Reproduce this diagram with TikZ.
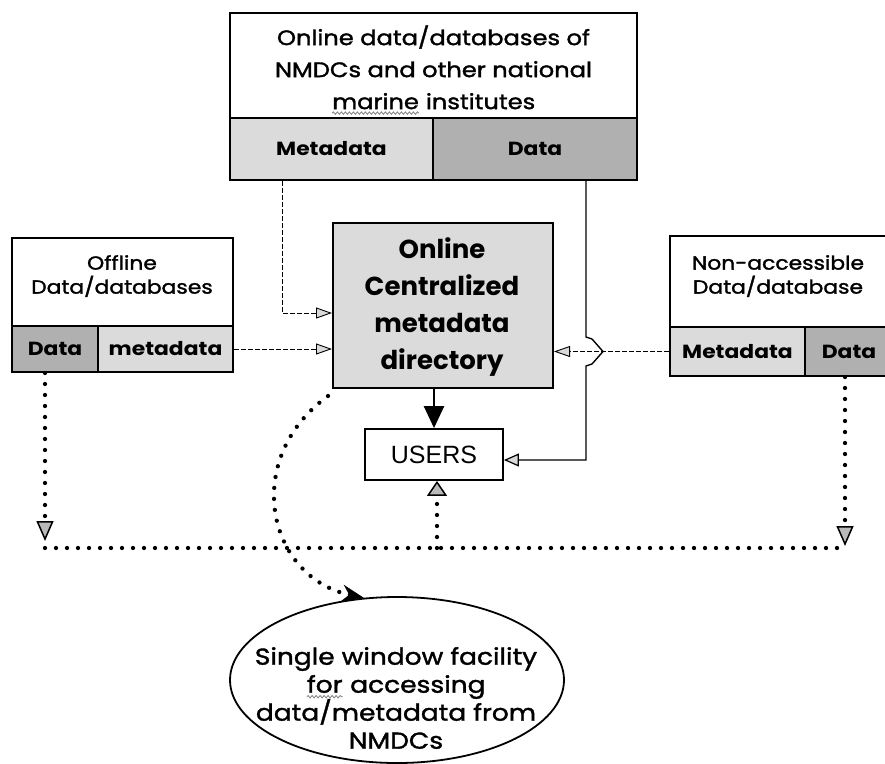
\documentclass[tikz,border=0pt]{standalone}
\usepackage{fontspec}
\setmainfont{Poppins}[FakeStretch=1.15]
\newfontfamily\titlef{Poppins}[FakeStretch=1.15, FakeBold=1.6]
\newfontfamily\popn{Poppins}
\newfontfamily\usersf{Liberation Sans}
\usetikzlibrary{arrows.meta,shapes.geometric,calc,decorations.pathmorphing}
\newcommand\sqw[1]{\tikz[baseline=(wq.base)]{\node[inner sep=0pt] (wq) {#1};
  \draw[gray, line width=0.8pt, decorate, decoration={snake, amplitude=1.2pt, segment length=4pt}]
   ([yshift=-4pt]wq.base west) -- ([yshift=-4pt]wq.base east);}}
\tikzset{
  box/.style={draw, line width=2pt, inner sep=0pt},
  lightcell/.style={box, fill=gray!28},
  darkcell/.style={box, fill=gray!62},
  celltext/.style={font=\bfseries\fontsize{19}{22}\selectfont},
  titletext/.style={align=center, inner sep=0pt},
  dasharrow/.style={line width=0.9pt, dash pattern=on 5pt off 2pt,
     -{Triangle[open, fill=gray!30, length=16pt, width=11pt, line width=0.9pt]}},
  dataline/.style={line width=1.4pt, line join=miter},
  dotline/.style={line width=4.3pt, line cap=round, dash pattern=on 0pt off 11pt},
  dottip/.style={-{Triangle[fill=gray!55, length=20pt, width=17pt, line width=1.5pt]}},
}
\begin{document}
\begin{tikzpicture}[x=1pt, y=-1pt]
\useasboundingbox (0,0) rectangle (885,763);
\clip (0,0) rectangle (885,763);

% top box
\node[box, fill=white, minimum width=407pt, minimum height=105pt] (topT) at (433.5,65.5) {};
\node[titletext, font=\titlef\fontsize{21}{32}\selectfont] (topTx) at (433.5,70)
  {Online data/databases of\\NMDCs and other national\\\sqw{marine} institutes};
\node[lightcell, minimum width=203pt, minimum height=62pt] (topM) at (331.5,149) {};
\node[celltext] (topMx) at (topM) {Metadata};
\node[darkcell, minimum width=204pt, minimum height=62pt] (topD) at (535,149) {};
\node[celltext] (topDx) at (topD) {Data};

% left box
\node[box, fill=white, minimum width=221pt, minimum height=88pt] (leftT) at (122.5,282) {};
\node[titletext, font=\titlef\fontsize{19}{24}\selectfont] (leftTx) at (122,276)
  {Offline\\Data/databases};
\node[darkcell, minimum width=86pt, minimum height=46pt] (leftD) at (55,349) {};
\node[celltext] (leftDx) at (leftD) {Data};
\node[lightcell, minimum width=135pt, minimum height=46pt] (leftM) at (165.5,349) {};
\node[celltext] (leftMx) at (leftM) {metadata};

% right box
\node[box, fill=white, minimum width=222pt, minimum height=91pt] (rightT) at (781,281.5) {};
\node[titletext, font=\titlef\fontsize{19}{24}\selectfont] (rightTx) at (778,276)
  {Non-accessible\\Data/database};
\node[lightcell, minimum width=135pt, minimum height=49pt] (rightM) at (737.5,351.5) {};
\node[celltext] (rightMx) at (rightM) {Metadata};
\node[darkcell, minimum width=87pt, minimum height=49pt] (rightD) at (848.5,351.5) {};
\node[celltext] (rightDx) at (849,351.5) {Data};

% centre box
\node[lightcell, minimum width=220pt, minimum height=165pt] (cbox) at (443,305.5) {};
\node[titletext, font=\popn\bfseries\fontsize{26}{37}\selectfont] (cboxx) at (442,307)
  {Online\\Centralized\\metadata\\directory};

% users
\node[draw, line width=1.8pt, fill=white, minimum width=138pt, minimum height=51pt,
      font=\usersf\fontsize{25}{28}\selectfont] (users) at (434,454.5) {USERS};

% ellipse
\node[ellipse, draw, line width=1.8pt, minimum width=334pt, minimum height=166pt,
      inner sep=0pt] (ell) at (397,680) {};
\node[titletext, font=\titlef\fontsize{23}{28}\selectfont] (ellx) at (396,698)
  {Single window facility\\\sqw{for} accessing\\data/metadata from\\NMDCs};

% connectors
\coordinate (m1) at (282,313);
\draw[dasharrow] (topM.south -| m1) |- (cbox.west |- m1);
\draw[dasharrow] (leftM.east) -- (cbox.west |- leftM.east);
\draw[dasharrow] (rightM.west) -- (cbox.east |- rightM.west);

\coordinate (dA) at (586,180);
\coordinate (u1) at (586,460);
\draw[dataline, -{Triangle[open, fill=gray!30, length=15pt, width=13pt, line width=1.2pt]}]
  (topD.south -| dA) -- (586,337) -- (592,339) -- (603,351.5) -- (592,364) -- (586,366)
  -- (u1) -- (users.east |- u1);

\draw[line width=2.4pt, -{Triangle[length=22pt, width=20pt]}] (cbox.south -| users.north) -- (users.north);

\coordinate (hl) at (45,548);
\coordinate (hr) at (845,548);
\coordinate (hu) at (437,548);
\coordinate (hlA) at (45,541);
\coordinate (hrA) at (845,546);
\draw[dotline] (hl) -- (hr);
\draw[dotline, dottip] (leftD.south -| hl) -- (hlA);
\draw[dotline, dottip] (rightD.south -| hr) -- (hrA);
\draw[dotline, -{Triangle[fill=gray!55, length=15pt, width=20pt, line width=1.5pt]}]
  (hu) -- (users.south -| hu);

\coordinate (cs) at (328,396);
\draw[dotline, -{Stealth[length=22pt, width=17pt]}]
  (cs) .. controls (240,460) and (268,578) .. (ell.112);
\end{tikzpicture}
\end{document}
